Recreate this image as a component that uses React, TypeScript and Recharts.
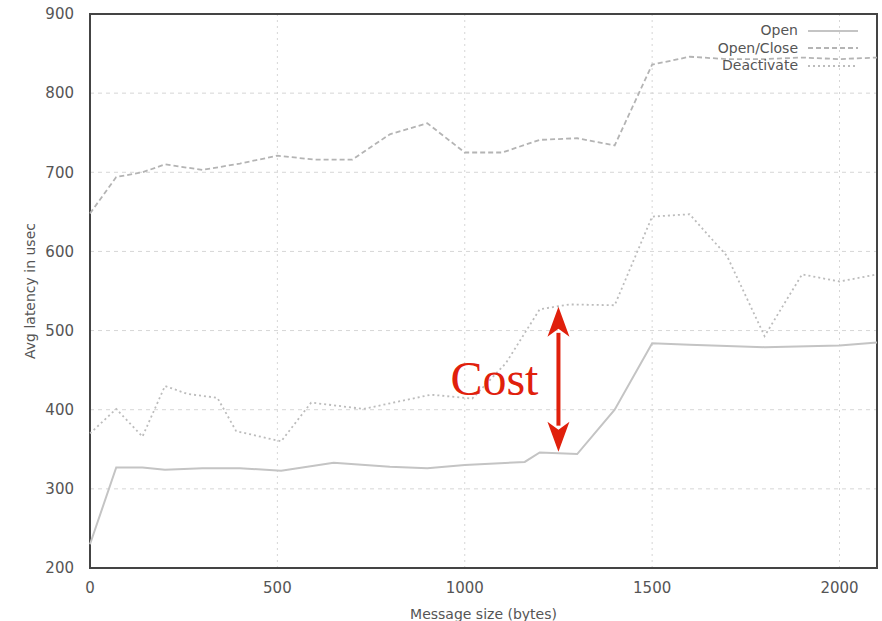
import React from 'react';
import {
  LineChart, Line, XAxis, YAxis, CartesianGrid, Legend, ReferenceLine, ReferenceArea,
} from 'recharts';

// message sizes (bytes) and average latency (usec)
const openSizes = [0, 70, 140, 200, 300, 400, 510, 650, 800, 900, 1000, 1160, 1200, 1300, 1400, 1500, 1600, 1800, 2000, 2100];
const openValues = [230, 327, 327, 324, 326, 326, 323, 333, 328, 326, 330, 334, 346, 344, 400, 484, 482, 479, 481, 485];

const openCloseSizes = [0, 70, 140, 200, 300, 400, 500, 600, 700, 800, 900, 1000, 1100, 1200, 1300, 1400, 1500, 1600, 1700, 1800, 1900, 2000, 2100];
const openCloseValues = [648, 694, 700, 710, 703, 711, 721, 716, 716, 748, 762, 725, 725, 741, 743, 734, 836, 846, 843, 843, 845, 843, 845];

const deactivateSizes = [0, 70, 140, 200, 260, 340, 390, 510, 590, 730, 910, 1020, 1110, 1200, 1280, 1400, 1500, 1600, 1700, 1800, 1900, 2000, 2100];
const deactivateValues = [370, 401, 366, 430, 420, 415, 373, 360, 409, 401, 419, 414, 459, 527, 533, 532, 644, 647, 594, 493, 571, 562, 571];

const xTicks = [0, 500, 1000, 1500, 2000];
const yTicks = [200, 300, 400, 500, 600, 700, 800, 900];

const toPoints = (sizes: number[], values: number[]) =>
  sizes.map((size, i) => ({ size, value: values[i] }));

const series = [
  { name: 'Open', data: toPoints(openSizes, openValues), color: '#c4c4c4', dash: undefined, width: 2 },
  { name: 'Open/Close', data: toPoints(openCloseSizes, openCloseValues), color: '#b4b4b4', dash: '5 3', width: 1.8 },
  { name: 'Deactivate', data: toPoints(deactivateSizes, deactivateValues), color: '#bcbcbc', dash: '2 3', width: 1.8 },
];

const FONT = '"DejaVu Sans", sans-serif';
const AXIS = '#444';
const TEXT = '#555';

const renderLegend = () => (
  <div style={{ fontFamily: FONT, fontSize: 14, color: TEXT }}>
    {series.map(s => (
      <div key={s.name} style={{ display: 'flex', alignItems: 'center', justifyContent: 'flex-end', height: 17.5 }}>
        <span style={{ lineHeight: '17px' }}>{s.name}</span>
        <svg width={62} height={10} style={{ marginLeft: 10 }}>
          <line x1={0} y1={5} x2={50} y2={5} stroke={s.color} strokeWidth={s.width} strokeDasharray={s.dash} />
        </svg>
      </div>
    ))}
  </div>
);

// red double-headed arrow with the "Cost" caption
const CostArrow = (props: any) => {
  const { x1, y1, y2 } = props;
  const top = Math.min(y1, y2);
  const bottom = Math.max(y1, y2);
  const head = 30;
  const half = 11;
  return (
    <g>
      <line x1={x1} y1={top + head - 4} x2={x1} y2={bottom - head + 4} stroke="#e0200c" strokeWidth={4} />
      <polygon points={`${x1},${top} ${x1 - half},${top + head} ${x1},${top + head - 8} ${x1 + half},${top + head}`} fill="#e0200c" />
      <polygon points={`${x1},${bottom} ${x1 - half},${bottom - head} ${x1},${bottom - head + 8} ${x1 + half},${bottom - head}`} fill="#e0200c" />
      <text x={x1 - 20} y={(top + bottom) / 2 + 16} textAnchor="end" fontFamily='"Liberation Serif", serif' fontSize={48} fill="#e0200c">
        Cost
      </text>
    </g>
  );
};

export default function App() {
  return (
    <div style={{ position: 'absolute', left: 0, top: 0, background: '#fff' }}>
      <LineChart width={882} height={621} margin={{ top: 14, right: 5, left: 0, bottom: 0 }}>
        <CartesianGrid horizontal vertical={false} stroke="#d6d6d6" strokeDasharray="4 4" />
        <CartesianGrid horizontal={false} vertical stroke="#d6d6d6" strokeDasharray="2 4" />
        <XAxis
          dataKey="size"
          type="number"
          domain={[0, 2100]}
          ticks={xTicks}
          allowDuplicatedCategory={false}
          height={53}
          axisLine={false}
          tickLine={false}
          tickMargin={8}
          tick={{ fill: TEXT, fontSize: 15, fontFamily: FONT }}
          label={{ value: 'Message size (bytes)', position: 'insideBottom', offset: 2, fill: TEXT, fontSize: 14, fontFamily: FONT }}
        />
        {/* inward tick marks, bottom and top */}
        <XAxis xAxisId="bm" dataKey="size" type="number" domain={[0, 2100]} ticks={xTicks} height={0} mirror axisLine={false} tickLine={{ stroke: AXIS, strokeWidth: 1.5 }} tickSize={5} tick={false} />
        <XAxis xAxisId="tm" orientation="top" dataKey="size" type="number" domain={[0, 2100]} ticks={xTicks} height={0} mirror axisLine={false} tickLine={{ stroke: AXIS, strokeWidth: 1.5 }} tickSize={5} tick={false} />
        <YAxis
          type="number"
          domain={[200, 900]}
          ticks={yTicks}
          width={90}
          axisLine={false}
          tickLine={false}
          tickMargin={10}
          tick={{ fill: TEXT, fontSize: 15, fontFamily: FONT }}
          label={{ value: 'Avg latency in usec', angle: -90, position: 'insideLeft', offset: 30, fill: TEXT, fontSize: 14, fontFamily: FONT, style: { textAnchor: 'middle' } }}
        />
        {/* inward tick marks, left and right */}
        <YAxis yAxisId="lm" type="number" domain={[200, 900]} ticks={yTicks} width={0} mirror axisLine={false} tickLine={{ stroke: AXIS, strokeWidth: 1.5 }} tickSize={5} tick={false} />
        <YAxis yAxisId="rm" orientation="right" type="number" domain={[200, 900]} ticks={yTicks} width={0} mirror axisLine={false} tickLine={{ stroke: AXIS, strokeWidth: 1.5 }} tickSize={5} tick={false} />
        <ReferenceArea x1={0} x2={2100} y1={200} y2={900} fill="none" stroke={AXIS} strokeWidth={2} ifOverflow="visible" />
        <Legend
          layout="vertical"
          align="center"
          verticalAlign="middle"
          content={renderLegend}
          wrapperStyle={{ top: 22, left: 640, width: 230, height: 60 }}
        />
        {series.map(s => (
          <Line
            key={s.name}
            data={s.data}
            dataKey="value"
            name={s.name}
            type="linear"
            stroke={s.color}
            strokeWidth={s.width}
            strokeDasharray={s.dash}
            dot={false}
            activeDot={false}
            isAnimationActive={false}
          />
        ))}
        <ReferenceLine
          segment={[{ x: 1250, y: 347 }, { x: 1250, y: 530 }]}
          ifOverflow="visible"
          shape={CostArrow}
        />
      </LineChart>
    </div>
  );
}
